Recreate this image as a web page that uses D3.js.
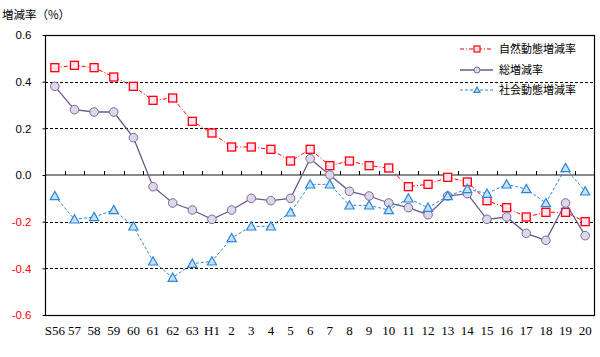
<!DOCTYPE html>
<html><head><meta charset="utf-8">
<script src="https://cdn.jsdelivr.net/npm/d3@7"></script>
<style>body{margin:0;background:#fff}svg{display:block}</style>
</head><body>
<script>
const categories = ["S56","57","58","59","60","61","62","63","H1","2","3","4","5","6","7","8","9","10","11","12","13","14","15","16","17","18","19","20"];
const natural = [0.46,0.47,0.46,0.42,0.38,0.32,0.33,0.23,0.18,0.12,0.12,0.11,0.06,0.11,0.04,0.06,0.04,0.03,-0.05,-0.04,-0.01,-0.03,-0.11,-0.14,-0.18,-0.16,-0.16,-0.20];
const total = [0.38,0.28,0.27,0.27,0.16,-0.05,-0.12,-0.15,-0.19,-0.15,-0.10,-0.11,-0.10,0.07,0.00,-0.07,-0.09,-0.12,-0.14,-0.17,-0.09,-0.08,-0.19,-0.18,-0.25,-0.28,-0.12,-0.26];
const social = [-0.09,-0.19,-0.18,-0.15,-0.22,-0.37,-0.44,-0.38,-0.37,-0.27,-0.22,-0.22,-0.16,-0.04,-0.04,-0.13,-0.13,-0.15,-0.10,-0.14,-0.09,-0.06,-0.08,-0.04,-0.06,-0.12,0.03,-0.07];
const yTicks = [0.6,0.4,0.2,0.0,-0.2,-0.4,-0.6];
const seriesNames = ["自然動態増減率","総増減率","社会動態増減率"];

const W=600,H=357;
const L=45,R=595,T=35,B=315;
const svg=d3.select("body").append("svg").attr("width",W).attr("height",H);
const x=d3.scaleBand().domain(categories).range([L,R]).padding(0);
const y=d3.scaleLinear().domain([-0.6,0.6]).range([B,T]);
const cx=c=>x(c)+x.bandwidth()/2;

// grid
svg.append("g").selectAll("line").data(yTicks.filter(v=>Math.abs(v)>0.01&&Math.abs(v)<0.59)).join("line")
 .attr("x1",L).attr("x2",R).attr("y1",d=>Math.round(y(d))+0.5).attr("y2",d=>Math.round(y(d))+0.5)
 .attr("stroke","#000").attr("stroke-width",1).attr("stroke-dasharray","3,2");

// zero axis
svg.append("line").attr("x1",L).attr("x2",R).attr("y1",y(0)).attr("y2",y(0)).attr("stroke","#8a8a8a").attr("stroke-width",2.2);
svg.append("g").selectAll("line").data(categories.slice(1)).join("line")
 .attr("x1",d=>Math.round(x(d))+0.5).attr("x2",d=>Math.round(x(d))+0.5)
 .attr("y1",y(0)-4).attr("y2",y(0)).attr("stroke","#000").attr("stroke-width",1);

// frame
svg.append("rect").attr("x",L+0.5).attr("y",T+0.5).attr("width",R-L-1).attr("height",B-T).attr("fill","none").attr("stroke","#000").attr("stroke-width",1.2);

// y axis ticks & labels
const yAxis=d3.axisLeft(y).tickValues(yTicks).tickSize(3).tickFormat(d3.format(".1f"));
const ya=svg.append("g").attr("transform",`translate(${L+0.5},0)`).call(yAxis);
ya.select(".domain").remove();
ya.selectAll(".tick line").attr("stroke","#000");
ya.selectAll(".tick text").attr("x",-14).attr("font-family","Liberation Sans, Arial, sans-serif").attr("font-size",11.5)
 .attr("fill",d=>d<0?"#ff0000":"#000").text(d=>d3.format(".1f")(d).replace("−","-"));

// x labels
const xAxis=d3.axisBottom(x).tickSize(0).tickPadding(0);
const xa=svg.append("g").attr("transform",`translate(0,${B})`).call(xAxis);
xa.select(".domain").remove();
xa.selectAll(".tick text").attr("y",11).attr("font-family","Liberation Serif, Times New Roman, serif").attr("font-size",13).attr("fill","#000");

// title
svg.append("text").attr("x",2).attr("y",19).attr("font-family","Noto Sans CJK JP").attr("font-size",11.5).attr("fill","#000").text("増減率（%）");

const line=d3.line().x((d,i)=>cx(categories[i])).y(d=>y(d));

const styles=[
 {data:natural,stroke:"#ff0000",dash:"4,2,1,2",width:1,mStroke:"#ff0000",mFill:"#fbe3fb",shape:"square"},
 {data:total,stroke:"#6b5a8a",dash:null,width:1.3,mStroke:"#7a6a96",mFill:"#ddd7e9",shape:"circle"},
 {data:social,stroke:"#2b8ad8",dash:"3,2",width:1,mStroke:"#2b88d6",mFill:"#c7e0f6",shape:"triangle"}
];
function marker(g,s,px,py,sz){
 if(s.shape==="square"){
  g.append("rect").attr("x",px-4).attr("y",py-4).attr("width",8).attr("height",8).attr("fill",s.mFill).attr("stroke",s.mStroke).attr("stroke-width",1.3);
 } else if(s.shape==="circle"){
  g.append("circle").attr("cx",px).attr("cy",py).attr("r",sz||4.3).attr("fill",s.mFill).attr("stroke",s.mStroke).attr("stroke-width",1);
 } else {
  const r=sz||4.6;
  g.append("path").attr("d",`M${px},${py-r}L${px+r},${py+r*0.8}L${px-r},${py+r*0.8}Z`).attr("fill",s.mFill).attr("stroke",s.mStroke).attr("stroke-width",1.2);
 }
}
styles.forEach(s=>{
 const g=svg.append("g");
 g.append("path").datum(s.data).attr("d",line).attr("fill","none").attr("stroke",s.stroke).attr("stroke-width",s.width).attr("stroke-dasharray",s.dash);
 s.data.forEach((v,i)=>marker(g,s,cx(categories[i]),y(v)));
});

// legend
const ly=[49,70,90];
styles.forEach((s,i)=>{
 const g=svg.append("g");
 g.append("line").attr("x1",460).attr("x2",493).attr("y1",ly[i]).attr("y2",ly[i]).attr("stroke",s.stroke).attr("stroke-width",s.width).attr("stroke-dasharray",s.dash);
 if(s.shape==="square"){
  g.append("rect").attr("x",474).attr("y",ly[i]-3).attr("width",6).attr("height",6).attr("fill",s.mFill).attr("stroke",s.mStroke).attr("stroke-width",1.2);
 } else marker(g,s,477,ly[i],3);
 g.append("text").attr("x",499).attr("y",ly[i]+4).attr("font-family","Noto Sans CJK JP").attr("font-size",11).attr("fill","#000").text(seriesNames[i]);
});
</script>
</body></html>
